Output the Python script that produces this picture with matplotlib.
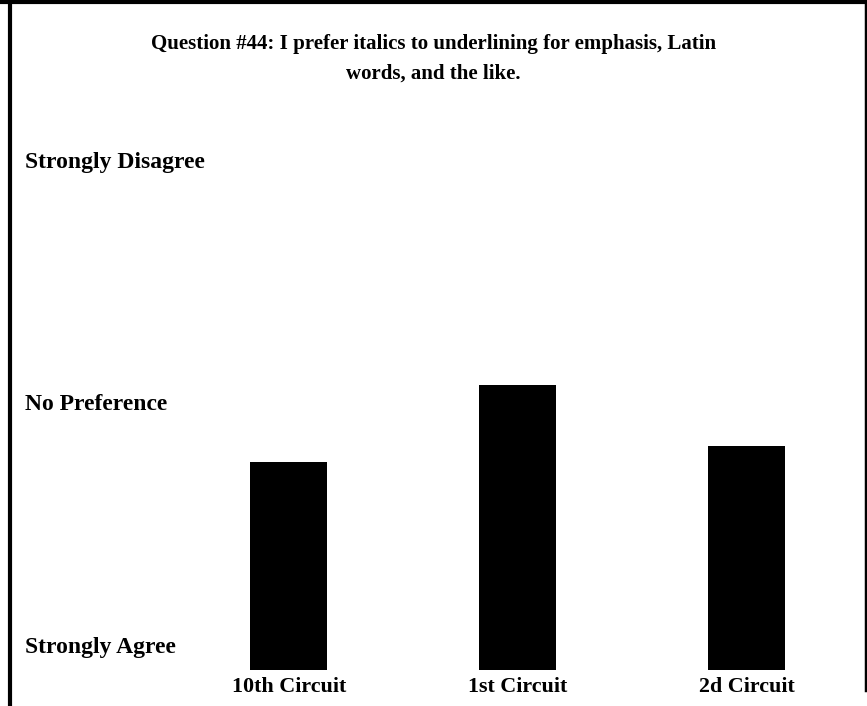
import matplotlib.pyplot as plt
from matplotlib.lines import Line2D
from matplotlib.transforms import blended_transform_factory, offset_copy

# Survey answers on a 1-5 scale (1 = Strongly Agree, 5 = Strongly Disagree)
circuits = ["10th Circuit", "1st Circuit", "2d Circuit"]
scores = [2.51, 3.145, 2.64]
scale_values = [1, 3, 5]
scale_labels = ["Strongly Agree", "No Preference", "Strongly Disagree"]
title = "Question #44: I prefer italics to underlining for emphasis, Latin\nwords, and the like."

plt.rcParams['font.family'] = ['Liberation Serif', 'DejaVu Serif']
plt.rcParams['font.weight'] = 'bold'

W, H = 867, 706
fig = plt.figure(figsize=(W / 100, H / 100), dpi=100)
ax = fig.add_axes([215 / W, 36 / H, (820 - 215) / W, 534 / H])

ax.bar(range(len(circuits)), scores, width=0.336, color="black")
ax.set_ylim(0.794, 5.2)
ax.set_xlim(-0.323, 2.319)

ax.set_xticks(range(len(circuits)))
ax.set_xticklabels(circuits, fontsize=15.8, fontweight='bold')
ax.tick_params(axis='x', length=0, pad=5)
ax.set_yticks([])
for s in ax.spines.values():
    s.set_visible(False)

trans = blended_transform_factory(fig.transFigure, ax.transData)
trans = offset_copy(trans, fig=fig, y=-2, units='dots')
for v, lab in zip(scale_values, scale_labels):
    ax.text(25 / W, v, lab, transform=trans, ha='left', va='center',
            fontsize=17, fontweight='bold', clip_on=False)

fig.text(0.5, 1 - 34 / H, title, ha='center', va='top', fontsize=15,
         fontweight='bold', linespacing=1.62, multialignment='center')

# border lines
fig.add_artist(Line2D([0, 1], [1 - 2 / H, 1 - 2 / H], transform=fig.transFigure, color='black', lw=3))
fig.add_artist(Line2D([10 / W, 10 / W], [0, 1], transform=fig.transFigure, color='black', lw=3))
fig.add_artist(Line2D([1 - 1.5 / W, 1 - 1.5 / W], [1 - 690 / H, 1], transform=fig.transFigure, color='black', lw=2.5))

fig.savefig("out.png", dpi=100, facecolor='white')
